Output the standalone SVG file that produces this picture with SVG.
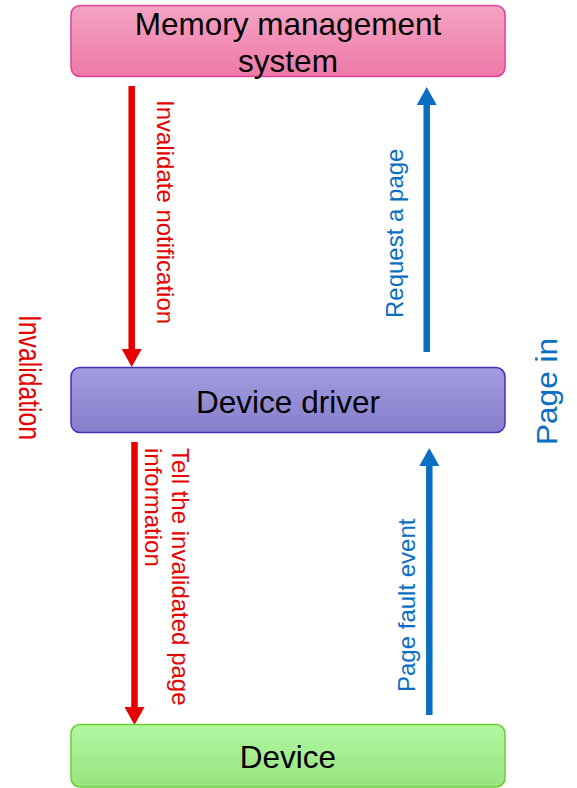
<svg xmlns="http://www.w3.org/2000/svg" width="577" height="788" viewBox="0 0 577 788">
  <defs>
    <linearGradient id="gPink" x1="0" y1="0" x2="0" y2="1">
      <stop offset="0" stop-color="#f5a4c3"/>
      <stop offset="1" stop-color="#ee79a8"/>
    </linearGradient>
    <linearGradient id="gPurple" x1="0" y1="0" x2="0" y2="1">
      <stop offset="0" stop-color="#a19ddf"/>
      <stop offset="1" stop-color="#877ecb"/>
    </linearGradient>
    <linearGradient id="gGreen" x1="0" y1="0" x2="0" y2="1">
      <stop offset="0" stop-color="#b1f6a1"/>
      <stop offset="1" stop-color="#96e47f"/>
    </linearGradient>
    <marker id="headRed" markerUnits="userSpaceOnUse" markerWidth="18" markerHeight="20" refX="0" refY="10" orient="auto" viewBox="0 0 18 20">
      <path d="M0,0 L18,10 L0,20 z" fill="#e60000"/>
    </marker>
    <marker id="headBlue" markerUnits="userSpaceOnUse" markerWidth="18" markerHeight="20" refX="0" refY="10" orient="auto" viewBox="0 0 18 20">
      <path d="M0,0 L18,10 L0,20 z" fill="#0a6fc2"/>
    </marker>
  </defs>
  <style>
    .box { stroke-width: 1.5; }
    .label { font-family: "Liberation Sans", Arial, sans-serif; fill: #000; font-size: 31.5px; text-anchor: middle; }
    .red { font-family: "Liberation Sans", Arial, sans-serif; fill: #e60000; }
    .blue { font-family: "Liberation Sans", Arial, sans-serif; fill: #0a6fc2; }
    .small { font-size: 24px; }
    .shaftRed { stroke: #e60000; stroke-width: 6.5; fill: none; marker-end: url(#headRed); }
    .shaftBlue { stroke: #0a6fc2; stroke-width: 6.5; fill: none; marker-end: url(#headBlue); }
  </style>

  <rect width="577" height="788" fill="#ffffff"/>

  <!-- connectors -->
  <g id="connectors">
    <line class="shaftRed" x1="131.7" y1="86" x2="131.7" y2="349"/>
    <line class="shaftRed" x1="134.5" y1="442" x2="134.5" y2="707"/>
    <line class="shaftBlue" x1="426.7" y1="352" x2="426.7" y2="105"/>
    <line class="shaftBlue" x1="429.3" y1="715" x2="429.3" y2="466"/>
  </g>

  <!-- connector labels -->
  <g id="labels">
    <text class="red small" transform="translate(157,100) rotate(90)">Invalidate notification</text>
    <text class="red small" transform="translate(172,448) rotate(90)">
      <tspan x="0" y="0">Tell the invalidated page</tspan>
      <tspan x="0" y="27">information</tspan>
    </text>
    <text class="blue small" transform="translate(402.5,318) rotate(-90)">Request a page</text>
    <text class="blue small" transform="translate(415,692) rotate(-90)">Page fault event</text>
    <text class="red" font-size="32" transform="translate(18.5,315) rotate(90)" textLength="125" lengthAdjust="spacingAndGlyphs">Invalidation</text>
    <text class="blue" font-size="29" transform="translate(557,445) rotate(-90)" textLength="107" lengthAdjust="spacingAndGlyphs">Page in</text>
  </g>

  <!-- nodes -->
  <g id="memory">
    <rect class="box" x="71" y="5.5" width="434" height="71" rx="9" fill="url(#gPink)" stroke="#e0409b"/>
    <text class="label" x="288" y="34.5">Memory management</text>
    <text class="label" x="288" y="71.5">system</text>
  </g>
  <g id="driver">
    <rect class="box" x="71" y="367.5" width="434" height="65" rx="9" fill="url(#gPurple)" stroke="#4a2ec2"/>
    <text class="label" x="288" y="413">Device driver</text>
  </g>
  <g id="device">
    <rect class="box" x="71" y="724.5" width="434" height="62.5" rx="9" fill="url(#gGreen)" stroke="#6ccd33"/>
    <text class="label" x="288" y="768">Device</text>
  </g>
</svg>
